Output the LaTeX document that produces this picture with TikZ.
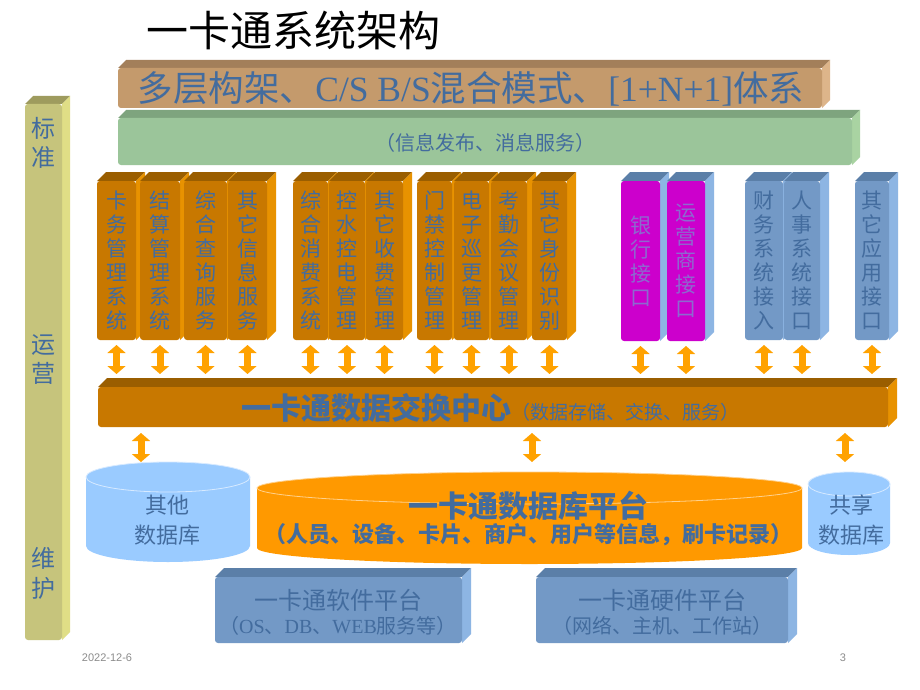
\documentclass[tikz,border=0pt]{standalone}
\usepackage{fontspec}
\setmainfont{Liberation Serif}
\newfontfamily\cjk{Noto Sans CJK SC}
\newfontfamily\lsans{Liberation Sans}
\usetikzlibrary{arrows.meta}
\definecolor{txtblue}{HTML}{436C9E}
\definecolor{magtxt}{HTML}{8C6ACF}
\definecolor{tanF}{HTML}{C49A6C}\definecolor{tanT}{HTML}{A37F5A}\definecolor{tanS}{HTML}{DDB58A}
\definecolor{grnF}{HTML}{9BC59A}\definecolor{grnT}{HTML}{7EA47E}\definecolor{grnS}{HTML}{A9D3A2}
\definecolor{olvF}{HTML}{C6C47C}\definecolor{olvT}{HTML}{9E9B5E}\definecolor{olvS}{HTML}{E0DE86}
\definecolor{orF}{HTML}{C87800}\definecolor{orT}{HTML}{9A5E00}\definecolor{orS}{HTML}{E89200}
\definecolor{bluF}{HTML}{7399C6}\definecolor{bluT}{HTML}{5B7FA8}\definecolor{bluS}{HTML}{8DB5E3}
\definecolor{magF}{HTML}{CC00CC}
\definecolor{dbBlue}{HTML}{9ACBFF}
\definecolor{dbOr}{HTML}{FF9900}
\definecolor{arrOr}{HTML}{FFA200}
\definecolor{foot}{HTML}{8C8C8C}
% 3D box: name, x1, y1, x2, y2, depth, front, top, side
\newcommand{\bx}[9]{%
  \fill[#8] (#2,#3) -- (#2+#6,#3-#6) -- (#4+#6,#3-#6) -- (#4,#3) -- cycle;
  \fill[#9] (#4,#3) -- (#4+#6,#3-#6) -- (#4+#6,#5-#6) -- (#4,#5) -- cycle;
  \node[fill=#7, rounded corners=3pt, inner sep=0pt, outer sep=0pt,
        minimum width={(#4-#2)*1pt}, minimum height={(#5-#3)*1pt},
        anchor=north west] (#1) at (#2,#3) {};%
}
% column: name, x1, y1, x2, y2, front, top, side, text
\newcommand{\colm}[9]{%
  \bx{#1}{#2}{#3}{#4}{#5}{9}{#6}{#7}{#8}%
  \node[coltxt] (#1t) at (#1.center) {#9};%
}
\tikzset{
  coltxt/.style={font=\cjk\fontsize{21}{24}\selectfont, text=txtblue, align=center, inner sep=0pt},
  magcoltxt/.style={coltxt, text=magtxt},
  dbl/.style={line width=7pt, draw=arrOr,
    arrows={Triangle[width=18pt,length=8pt]-Triangle[width=18pt,length=8pt]}},
}
\begin{document}
\begin{tikzpicture}[x=1pt,y=-1pt]
\useasboundingbox (0,0) rectangle (920,690);
\fill[white] (0,0) rectangle (920,690);

% title
\node[font=\cjk\fontsize{42}{42}\selectfont, text=black, inner sep=0pt] (title) at (293,30) {一卡通系统架构};

% left bar
\bx{lbar}{25}{104}{62}{640}{8}{olvF}{olvT}{olvS}
\node[coltxt, font=\cjk\fontsize{24}{29}\selectfont] (l1) at (43,143) {标\\准};
\node[coltxt, font=\cjk\fontsize{24}{29}\selectfont] (l2) at (43,360) {运\\营};
\node[coltxt, font=\cjk\fontsize{24}{30}\selectfont] (l3) at (43,573) {维\\护};

% tan banner
\bx{tan}{118}{68}{822}{108}{8}{tanF}{tanT}{tanS}
\node[font=\cjk\fontsize{35.5}{35.5}\selectfont, text=txtblue, inner sep=0pt] (tant) at (471,89)
  {多层构架、{\rmfamily C/S B/S}混合模式、{\rmfamily [1+N+1]}体系};

% green banner
\bx{grn}{118}{118}{852}{165}{8}{grnF}{grnT}{grnS}
\node[font=\cjk\fontsize{20}{20}\selectfont, text=txtblue, inner sep=0pt] (grnt) at (485,143) {（信息发布、消息服务）};

% orange columns group 1
\colm{c1}{97}{181}{136}{340}{orF}{orT}{orS}{卡\\务\\管\\理\\系\\统}
\colm{c2}{140}{181}{180}{340}{orF}{orT}{orS}{结\\算\\管\\理\\系\\统}
\colm{c3}{184}{181}{227}{340}{orF}{orT}{orS}{综\\合\\查\\询\\服\\务}
\colm{c4}{228}{181}{267}{340}{orF}{orT}{orS}{其\\它\\信\\息\\服\\务}
% group 2
\colm{c5}{293}{181}{328}{340}{orF}{orT}{orS}{综\\合\\消\\费\\系\\统}
\colm{c6}{329}{181}{365}{340}{orF}{orT}{orS}{控\\水\\控\\电\\管\\理}
\colm{c7}{366}{181}{403}{340}{orF}{orT}{orS}{其\\它\\收\\费\\管\\理}
% group 3
\colm{c8}{417}{181}{452}{340}{orF}{orT}{orS}{门\\禁\\控\\制\\管\\理}
\colm{c9}{454}{181}{489}{340}{orF}{orT}{orS}{电\\子\\巡\\更\\管\\理}
\colm{c10}{491}{181}{527}{340}{orF}{orT}{orS}{考\\勤\\会\\议\\管\\理}
\colm{c11}{532}{181}{567}{340}{orF}{orT}{orS}{其\\它\\身\\份\\识\\别}
% magenta
\bx{c12}{621}{181}{660}{341}{9}{magF}{bluT}{bluS}
\node[magcoltxt] (c12t) at (c12.center) {银\\行\\接\\口};
\bx{c13}{667}{181}{705}{341}{9}{magF}{bluT}{bluS}
\node[magcoltxt] (c13t) at (c13.center) {运\\营\\商\\接\\口};
% blue
\colm{c14}{745}{181}{783}{340}{bluF}{bluT}{bluS}{财\\务\\系\\统\\接\\入}
\colm{c15}{784}{181}{820}{340}{bluF}{bluT}{bluS}{人\\事\\系\\统\\接\\口}
\colm{c16}{855}{181}{889}{340}{bluF}{bluT}{bluS}{其\\它\\应\\用\\接\\口}

% exchange centre
\bx{xc}{98}{387}{888}{427}{9}{orF}{orT}{orS}
\node[text=txtblue, inner sep=0pt] (xct) at (490,408)
  {{\cjk\bfseries\fontsize{30}{30}\selectfont 一卡通数据交换中心}{\cjk\fontsize{19}{19}\selectfont （数据存储、交换、服务）}};

% arrows columns -> exchange centre
\coordinate (xtop) at (0,374);
\foreach \c in {c1,c2,c3,c4,c5,c6,c7,c8,c9,c10,c11,c12,c13,c14,c15,c16}{
  \draw[dbl] ([yshift=-5pt]\c.south) -- (\c.south |- xtop);
}

% databases
% other DB
\fill[dbBlue] (86,477) -- (86,546) arc[start angle=180,end angle=360,x radius=82pt,y radius=16pt] -- (250,477) -- cycle;
\filldraw[fill=dbBlue, draw=white!60!dbBlue, line width=0.8pt] (168,477) ellipse [x radius=82pt, y radius=15pt];
\node[coltxt, font=\cjk\fontsize{22}{30}\selectfont] (odb) at (167,520) {其他\\数据库};
% main DB
\fill[dbOr] (257,488) -- (257,548) arc[start angle=180,end angle=360,x radius=272.5pt,y radius=16pt] -- (802,488) -- cycle;
\filldraw[fill=dbOr, draw=white!55!dbOr, line width=0.8pt] (529.5,488) ellipse [x radius=272.5pt, y radius=16pt];
\node[text=txtblue, inner sep=0pt, font=\cjk\bfseries\fontsize{30}{30}\selectfont] (mdb) at (528,506) {一卡通数据库平台};
\node[text=txtblue, inner sep=0pt, font=\cjk\bfseries\fontsize{22}{22}\selectfont] (mdb2) at (528,535) {（人员、设备、卡片、商户、用户等信息，刷卡记录）};
% shared DB
\fill[dbBlue] (808,484) -- (808,543) arc[start angle=180,end angle=360,x radius=41pt,y radius=12pt] -- (890,484) -- cycle;
\filldraw[fill=dbBlue, draw=white!60!dbBlue, line width=0.8pt] (849,484) ellipse [x radius=41pt, y radius=12pt];
\node[coltxt, font=\cjk\fontsize{22}{30}\selectfont] (sdb) at (851,520) {共享\\数据库};

% arrows exchange centre -> databases
\coordinate (xbot) at (0,433);
\coordinate (b1) at (141,462);
\coordinate (b2) at (532,462);
\coordinate (b3) at (845,462);
\foreach \b in {b1,b2,b3}{
  \draw[dbl] (\b |- xbot) -- (\b);
}

% platforms
\bx{sw}{215}{577}{462}{643}{9}{bluF}{bluT}{bluS}
\bx{hw}{536}{577}{788}{643}{9}{bluF}{bluT}{bluS}
\node[text=txtblue, inner sep=0pt, font=\cjk\fontsize{24}{24}\selectfont] (swt) at (338,600) {一卡通软件平台};
\node[text=txtblue, inner sep=0pt, font=\cjk\fontsize{20}{20}\selectfont] (swt2) at (338,626) {（{\rmfamily OS}、{\rmfamily DB}、{\rmfamily WEB}服务等）};
\node[text=txtblue, inner sep=0pt, font=\cjk\fontsize{24}{24}\selectfont] (hwt) at (662,600) {一卡通硬件平台};
\node[text=txtblue, inner sep=0pt, font=\cjk\fontsize{20}{20}\selectfont] (hwt2) at (662,626) {（网络、主机、工作站）};

% footer
\node[text=foot, inner sep=0pt, font=\lsans\fontsize{11}{11}\selectfont] (date) at (107,658) {2022-12-6};
\node[text=foot, inner sep=0pt, font=\lsans\fontsize{11}{11}\selectfont] (pg) at (843,658) {3};
\end{tikzpicture}
\end{document}
